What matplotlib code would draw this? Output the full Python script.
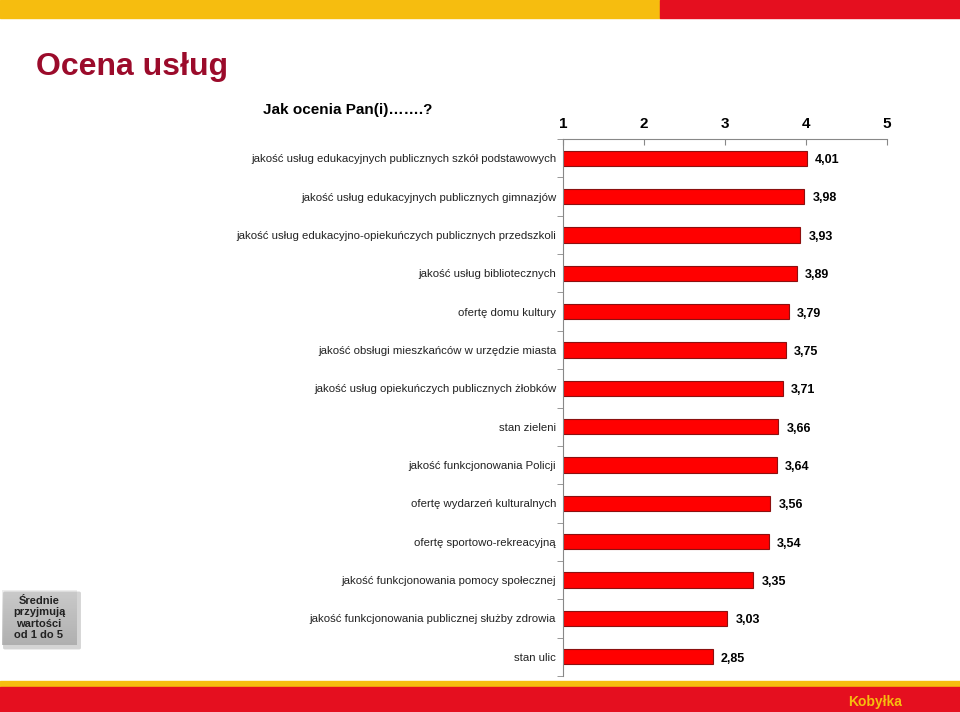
import matplotlib.pyplot as plt
from matplotlib.patches import Rectangle, FancyBboxPatch
import numpy as np

plt.rcParams['font.family'] = ['Liberation Sans', 'DejaVu Sans']

categories = [
    'jakość usług edukacyjnych publicznych szkół podstawowych',
    'jakość usług edukacyjnych publicznych gimnazjów',
    'jakość usług edukacyjno-opiekuńczych publicznych przedszkoli',
    'jakość usług bibliotecznych',
    'ofertę domu kultury',
    'jakość obsługi mieszkańców w urzędzie miasta',
    'jakość usług opiekuńczych publicznych żłobków',
    'stan zieleni',
    'jakość funkcjonowania Policji',
    'ofertę wydarzeń kulturalnych',
    'ofertę sportowo-rekreacyjną',
    'jakość funkcjonowania pomocy społecznej',
    'jakość funkcjonowania publicznej służby zdrowia',
    'stan ulic',
]
values = [4.01, 3.98, 3.93, 3.89, 3.79, 3.75, 3.71, 3.66, 3.64, 3.56, 3.54, 3.35, 3.03, 2.85]
ticks = [1, 2, 3, 4, 5]

fig = plt.figure(figsize=(9.6, 7.12), dpi=100)

# header / footer bands
fig.patches.append(Rectangle((0, 1 - 18 / 712), 660 / 960, 18 / 712, transform=fig.transFigure,
                             color='#F6BD0F', zorder=0))
fig.patches.append(Rectangle((660 / 960, 1 - 18 / 712), 300 / 960, 18 / 712, transform=fig.transFigure,
                             color='#E50F1F', zorder=0))
fig.patches.append(Rectangle((0, 25 / 712), 1, 6 / 712, transform=fig.transFigure,
                             color='#F6BD0F', zorder=0))
fig.patches.append(Rectangle((0, 0), 1, 25 / 712, transform=fig.transFigure,
                             color='#E50F1F', zorder=0))

fig.text(36 / 960, 1 - 67 / 712, 'Ocena usług', fontsize=23, fontweight='bold',
         color='#9B0B2B', va='center', ha='left')
fig.text(263 / 960, 1 - 110 / 712, 'Jak ocenia Pan(i)…….?', fontsize=11, fontweight='bold',
         color='black', va='center', ha='left')
fig.text(875 / 960, 1 - 702 / 712, 'Kobyłka', fontsize=10, fontweight='bold',
         color='#F6BD0F', va='center', ha='center')

# note box with a simple vertical gradient
fig.patches.append(FancyBboxPatch((5 / 960, 1 - 648 / 712), 74 / 960, 55 / 712,
                                  boxstyle='round,pad=0.002', transform=fig.transFigure,
                                  facecolor='#A0A0A0', edgecolor='none', alpha=0.45))
grad = np.linspace(0.93, 0.74, 100).reshape(-1, 1)
gax = fig.add_axes([2 / 960, 1 - 645 / 712, 74 / 960, 55 / 712])
gax.imshow(grad, cmap='gray', vmin=0, vmax=1, aspect='auto', extent=(0, 1, 0, 1))
gax.axis('off')
fig.text(39 / 960, 1 - 618 / 712, 'Średnie\nprzyjmują\nwartości\nod 1 do 5', fontsize=8,
         fontweight='bold', color='#222222', ha='center', va='center', linespacing=1.15)

ax = fig.add_axes([563 / 960, 1 - 676 / 712, 324 / 960, 537 / 712])
y = np.arange(len(categories))
ax.barh(y, [v - 1 for v in values], left=1, height=0.4, color='#FF0000',
        edgecolor='#8B1010', linewidth=0.8)
for yi, v in zip(y, values):
    ax.text(v + 0.1, yi + 0.05, f'{v:.2f}'.replace('.', ','), va='center', ha='left',
            fontsize=9, fontweight='bold')

ax.set_xlim(1, 5)
ax.set_ylim(len(categories) - 0.5, -0.5)
ax.set_xticks(ticks)
ax.set_xticklabels([str(t) for t in ticks], fontsize=11, fontweight='bold')
ax.xaxis.tick_top()
ax.tick_params(axis='x', direction='in', length=4, color='#888888', pad=6)
ax.set_yticks(y)
ax.set_yticklabels(categories, fontsize=8.2, color='#222222')
ax.tick_params(axis='y', length=0, pad=5)
ax.set_yticks(np.arange(len(categories) + 1) - 0.5, minor=True)
ax.tick_params(axis='y', which='minor', direction='out', length=4, color='#888888')
for s in ['right', 'bottom']:
    ax.spines[s].set_visible(False)
for s in ['left', 'top']:
    ax.spines[s].set_color('#888888')
    ax.spines[s].set_linewidth(0.8)

fig.savefig('out.png', dpi=100)
